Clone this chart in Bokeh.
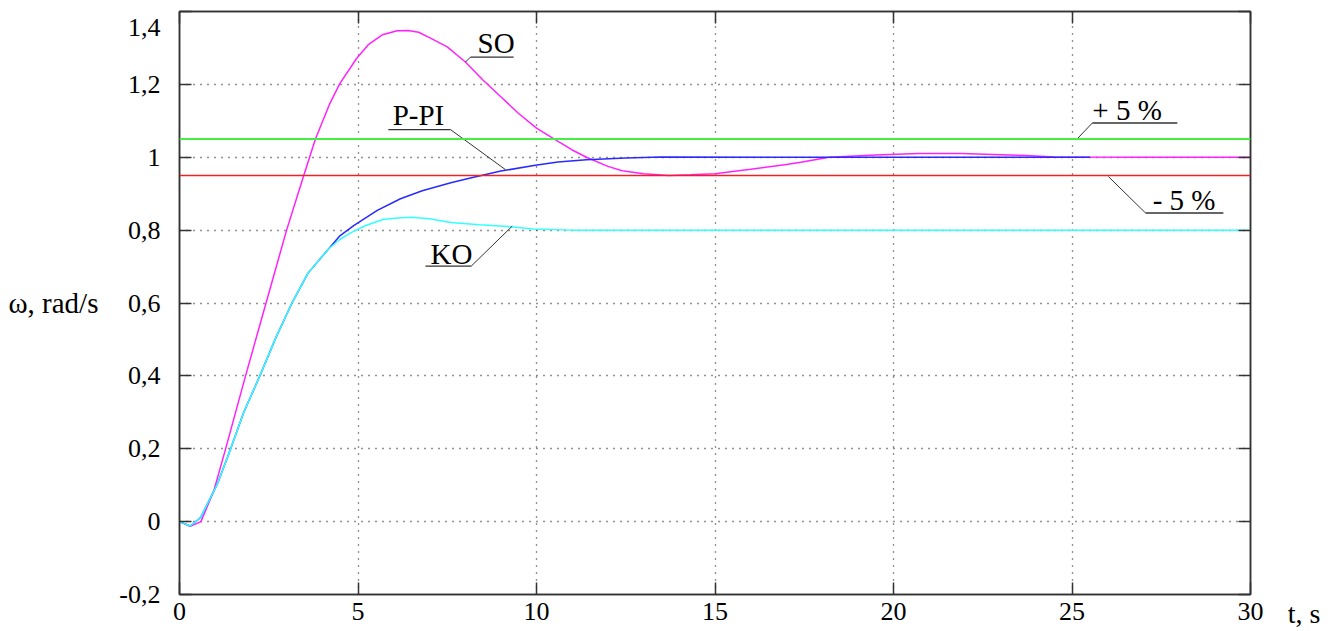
from bokeh.plotting import figure
from bokeh.models import FixedTicker, LinearAxis, Label, Range1d, Span, CustomJSTickFormatter
from bokeh.core.properties import value
from bokeh.embed import file_html
from bokeh.resources import INLINE

# ---------------- data ----------------
x_ticks = [0, 5, 10, 15, 20, 25, 30]
y_ticks = [-0.2, 0, 0.2, 0.4, 0.6, 0.8, 1.0, 1.2, 1.4]

so_t = [0, 0.3, 0.6, 0.96, 1.29, 1.85, 2.43, 3.0, 3.48, 3.81, 4.2, 4.49, 4.96, 5.3, 5.68,
        6.1, 6.4, 6.7, 7.03, 7.5, 8.0, 8.5, 9.0, 9.5, 10.0, 10.5, 11.0, 11.4, 12.0, 12.4,
        13.0, 13.7, 14.3, 15.0, 16.0, 17.0, 17.4, 18.2, 19.5, 20.7, 21.9, 23.0, 23.7, 24.5,
        27.0, 30.0]
so_v = [0, -0.013, 0.0, 0.084, 0.199, 0.4, 0.602, 0.8, 0.95, 1.051, 1.145, 1.202, 1.271, 1.31, 1.336,
        1.347, 1.348, 1.343, 1.327, 1.303, 1.262, 1.212, 1.166, 1.12, 1.08, 1.05, 1.02, 1.0, 0.975, 0.963,
        0.955, 0.95, 0.952, 0.955, 0.967, 0.98, 0.986, 1.0, 1.006, 1.01, 1.01, 1.007, 1.005, 1.001,
        1.0, 1.0]

ko_t = [0, 0.3, 0.59, 1.06, 1.43, 1.8, 2.25, 2.7, 3.16, 3.6, 4.18, 4.5, 4.82, 5.2, 5.72,
        6.2, 6.5, 7.0, 7.6, 8.4, 9.2, 9.9, 11.0, 30.0]
ko_v = [0, -0.012, 0.011, 0.103, 0.199, 0.3, 0.4, 0.505, 0.602, 0.682, 0.749, 0.775, 0.794, 0.812, 0.83,
        0.834, 0.835, 0.831, 0.821, 0.815, 0.81, 0.803, 0.8, 0.8]

pi_t = [0, 0.3, 0.59, 1.06, 1.43, 1.8, 2.25, 2.7, 3.16, 3.6, 4.18, 4.5, 4.89, 5.54, 6.19,
        6.8, 7.6, 8.15, 9.0, 9.97, 10.6, 11.4, 12.5, 13.5, 17.0, 20.0, 25.5]
pi_v = [0, -0.012, 0.011, 0.103, 0.199, 0.3, 0.4, 0.505, 0.602, 0.682, 0.749, 0.785, 0.813, 0.854, 0.886,
        0.908, 0.93, 0.943, 0.962, 0.978, 0.987, 0.993, 0.998, 1.001, 1.0, 1.0, 1.0]

tol_levels = [1.05, 0.95]

ann_text = ["SO", "P-PI", "KO", "+ 5 %", "- 5 %"]

# ---------------- figure ----------------
FONT = "Liberation Serif, serif"
p = figure(width=1342, height=631, output_backend="svg", toolbar_location=None,
           x_range=Range1d(0, 30), y_range=Range1d(-0.2, 1.4),
           min_border_left=179, min_border_right=92, min_border_top=11, min_border_bottom=37,
           background_fill_color="white", border_fill_color="white")
p.outline_line_color = "#333333"
p.outline_line_width = 1.5

x_fmt = CustomJSTickFormatter(code="return String(Math.round(tick));")
y_fmt = CustomJSTickFormatter(code="""
var v = Math.round(tick*10)/10;
if (v > 1.35) { return ''; }
if (Math.abs(v - Math.round(v)) < 1e-9) { return String(Math.round(v)); }
return v.toFixed(1).replace('.', ',');
""")

for ax, ticks, fmt in ((p.xaxis[0], x_ticks, x_fmt), (p.yaxis[0], y_ticks, y_fmt)):
    ax.ticker = FixedTicker(ticks=ticks)
    ax.formatter = fmt
    ax.major_tick_in = 12
    ax.major_tick_out = 0
    ax.minor_tick_line_color = None
    ax.axis_line_color = "#333333"
    ax.axis_line_width = 1.5
    ax.major_tick_line_color = "#333333"
    ax.major_tick_line_width = 1.5
    ax.major_label_text_font = FONT
    ax.major_label_text_font_size = "26px"
    ax.major_label_text_color = "black"
p.xaxis[0].major_label_standoff = 8
p.yaxis[0].major_label_standoff = 19

blank = CustomJSTickFormatter(code="return '';")
for side, ticks in (("right", y_ticks), ("above", x_ticks)):
    ax = LinearAxis(ticker=FixedTicker(ticks=ticks), formatter=blank,
                    major_tick_in=12, major_tick_out=0, minor_tick_line_color=None,
                    axis_line_color="#333333", axis_line_width=1.5,
                    major_tick_line_color="#333333", major_tick_line_width=1.5,
                    major_label_text_font_size="0px", major_label_standoff=0)
    p.add_layout(ax, side)

p.xgrid.ticker = FixedTicker(ticks=x_ticks)
p.ygrid.ticker = FixedTicker(ticks=y_ticks)
for g in (p.xgrid[0], p.ygrid[0]):
    g.grid_line_color = "#222222"
    g.grid_line_dash = "1 6"
    g.grid_line_width = 1.3

# tolerance bands
p.add_layout(Span(location=tol_levels[0], dimension="width", line_color="#44ee44", line_width=2))
p.add_layout(Span(location=tol_levels[1], dimension="width", line_color="#ee2222", line_width=1.5))

# curves
p.line(so_t, so_v, line_color="#ff22ff", line_width=1.5)
p.line(pi_t, pi_v, line_color="#2a2aff", line_width=1.5)
p.line(ko_t, ko_v, line_color="#33ffff", line_width=1.5)

# annotation labels with underline + leader
ann_x = [8.35, 5.97, 7.03, 25.57, 27.26]
ann_y = [1.3145, 1.1148, 0.7353, 1.1284, 0.8837]
ul_x0 = [8.15, 5.85, 6.89, 25.57, 27.06]
ul_x1 = [9.36, 7.59, 8.17, 27.95, 29.24]
ul_y = [1.275, 1.076, 0.701, 1.094, 0.847]
ld_x0 = [8.15, 7.59, 8.17, 25.57, 27.06]
ld_y0 = [1.275, 1.076, 0.701, 1.094, 0.847]
ld_x1 = [8.01, 9.13, 9.32, 25.15, 26.02]
ld_y1 = [1.261, 0.966, 0.811, 1.051, 0.947]

p.segment(ul_x0, ul_y, ul_x1, ul_y, line_color="#333333", line_width=1.3)
p.segment(ld_x0, ld_y0, ld_x1, ld_y1, line_color="#333333", line_width=1.0)
p.text(ann_x, ann_y, text=ann_text, text_font=value(FONT), text_font_size="29px",
       text_color="black", text_align="left", text_baseline="middle")

# top tick label sits just below its tick (as in the reference); drawn unclipped from a side panel
p.add_layout(Label(x=-0.532, y=y_ticks[-1] - 0.044, text="1,4", text_font=FONT, text_font_size="26px",
                   text_color="black", text_align="right", text_baseline="middle"), "right")

# axis titles placed in side panels so they are not clipped to the frame
p.add_layout(Label(x=-4.79, y=0.6, text="ω, rad/s", text_font=FONT, text_font_size="29px",
                   text_color="black", text_align="left", text_baseline="middle"), "left")
p.add_layout(Label(x=31.04, y=-0.2535, text="t, s", text_font=FONT, text_font_size="28px",
                   text_color="black", text_align="left", text_baseline="middle"), "right")

open("out.html", "w").write(file_html(p, INLINE))
